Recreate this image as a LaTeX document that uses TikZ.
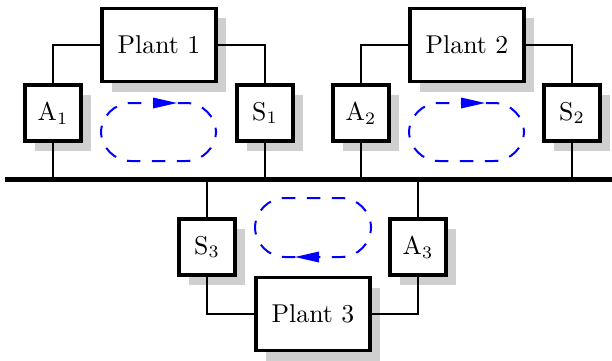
\documentclass[tikz,border=0pt]{standalone}
\usetikzlibrary{shadows}
\begin{document}
\begin{tikzpicture}[x=0.4pt,y=-0.4pt,
  blockbox/.style={draw, line width=1.55pt, fill=white, inner sep=0pt,
     font=\fontsize{10.3}{12}\selectfont,
     drop shadow={shadow xshift=4pt, shadow yshift=-4pt, fill=black!19, opacity=1}},
  plantbox/.style={blockbox, minimum width=45.6pt, minimum height=29.2pt},
  smallbox/.style={blockbox, minimum width=22.4pt, minimum height=22.4pt},
  wire/.style={draw, line width=0.75pt},
  busline/.style={draw, line width=2.3pt},
  loopline/.style={draw=blue, line width=0.8pt, dash pattern=on 5.4pt off 4.6pt, dash phase=2pt, rounded corners=12pt},
  looptip/.style={fill=blue}]
\useasboundingbox (0,0) rectangle (612,360);
% nodes
\node[plantbox] (P1) at (159,45) {Plant 1};
\node[smallbox] (A1) at (53,113) {A$_1$};
\node[smallbox] (S1) at (265,113) {S$_1$};
\node[plantbox] (P2) at (467,45) {Plant 2};
\node[smallbox] (A2) at (361,113) {A$_2$};
\node[smallbox] (S2) at (572,113) {S$_2$};
\node[smallbox] (S3) at (207,247) {S$_3$};
\node[smallbox] (A3) at (418,247) {A$_3$};
\node[plantbox] (P3) at (313,314) {Plant 3};
% bus
\coordinate (busL) at (5,179.5);
\coordinate (busR) at (612,179.5);
\path[busline] (busL) -- (busR);
% connectors
\path[wire] (A1) |- (P1);
\path[wire] (S1) |- (P1);
\path[wire] (A2) |- (P2);
\path[wire] (S2) |- (P2);
\path[wire] (S3) |- (P3);
\path[wire] (A3) |- (P3);
\foreach \n in {A1,S1,A2,S2,S3,A3} \path[wire] (\n) -- (\n |- busL);
% loops
\path[loopline] (101,103) rectangle (216,161);
\fill[looptip] (153,97.5) -- (177,103) -- (153,108.5) -- cycle;
\path[loopline] (409,103) rectangle (524,161);
\fill[looptip] (461,97.5) -- (485,103) -- (461,108.5) -- cycle;
\path[loopline] (255,198) rectangle (371,257);
\fill[looptip] (295,257) -- (319,251.5) -- (319,262.5) -- cycle;
\end{tikzpicture}
\end{document}
